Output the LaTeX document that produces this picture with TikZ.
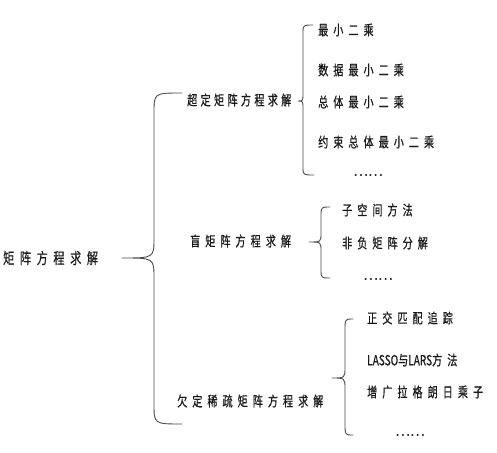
\documentclass[tikz,border=0pt]{standalone}
\usepackage{fontspec}
\usepackage{tikz}
\usetikzlibrary{calc}
\newfontfamily\cjk[FakeStretch=0.72,FakeBold=0.6,LetterSpace=36]{Noto Sans CJK SC}
\newfontfamily\cjktight[FakeStretch=0.72,FakeBold=0.6,LetterSpace=24]{Noto Sans CJK SC}
\newfontfamily\latn[FakeStretch=0.72,FakeBold=0.6]{Noto Sans CJK SC}
\newfontfamily\wide[FakeBold=0.6]{Noto Sans CJK SC}
\definecolor{ink}{HTML}{1A1A1A}
\definecolor{bracegray}{HTML}{4A4A4A}
\tikzset{
  every picture/.style={line join=round, line cap=round},
  label/.style={anchor=west, inner sep=0pt, text=ink, font=\cjk\fontsize{14}{16}\selectfont},
  root/.style={label, font=\cjk\fontsize{15.5}{18}\selectfont},
  tightlabel/.style={label, font=\cjktight\fontsize{14}{16}\selectfont},
  dots/.style={label, font=\wide\fontsize{14}{16}\selectfont},
  brace/.style={draw=bracegray, line width=0.9pt},
}
% top end, cusp, bottom end, spine x, corner size
\newcommand\curly[5]{%
  \draw[brace] let \p1=(#1), \p2=(#2), \p3=(#3) in
    (\p1) .. controls (#4,\y1) .. (#4,\y1-#5)
    -- (#4,\y2+#5) .. controls (#4,\y2) .. (\p2)
    .. controls (#4,\y2) .. (#4,\y2-#5)
    -- (#4,\y3+#5) .. controls (#4,\y3) .. (\p3);}

\begin{document}
\begin{tikzpicture}[x=1pt,y=-1pt]
\useasboundingbox (0,0) rectangle (497,452);
% root
\node[root] (root) at (3,258) {矩阵方程求解};
\node[tightlabel] (over) at (187,100) {超定矩阵方程求解};
\node[label] (blind) at (190,241) {盲矩阵方程求解};
\node[label] (under) at (177,401) {欠定稀疏矩阵方程求解};
\coordinate (r-top) at (182,93);
\coordinate (r-cusp) at (122,258);
\coordinate (r-bot) at (182,424);
\curly{r-top}{r-cusp}{r-bot}{154pt}{20pt}
% overdetermined
\node[label] (o1) at (318,30) {最小二乘};
\node[label] (o2) at (318,70) {数据最小二乘};
\node[label] (o3) at (318,102) {总体最小二乘};
\node[label] (o4) at (318,142) {约束总体最小二乘};
\node[dots] (o5) at (353,175) {……};
\coordinate (o-top) at (313,25);
\coordinate (o-cusp) at (298,101);
\coordinate (o-bot) at (314,175);
\curly{o-top}{o-cusp}{o-bot}{303pt}{8pt}
% blind
\node[label] (b1) at (342,210) {子空间方法};
\node[label] (b2) at (342,243) {非负矩阵分解};
\node[dots] (b3) at (363,279) {……};
\coordinate (b-top) at (330,207);
\coordinate (b-cusp) at (309,242);
\coordinate (b-bot) at (330,278);
\curly{b-top}{b-cusp}{b-bot}{321pt}{9pt}
% underdetermined sparse
\node[label] (u1) at (367,318) {正交匹配追踪};
\node[label] (u2) at (367,360) {{\latn LASSO}与{\latn LARS}方法};
\node[label] (u3) at (367,392) {增广拉格朗日乘子};
\node[dots] (u4) at (395,435) {……};
\coordinate (u-top) at (353,319);
\coordinate (u-cusp) at (332,378);
\coordinate (u-bot) at (353,435);
\curly{u-top}{u-cusp}{u-bot}{345pt}{11pt}
\end{tikzpicture}
\end{document}
